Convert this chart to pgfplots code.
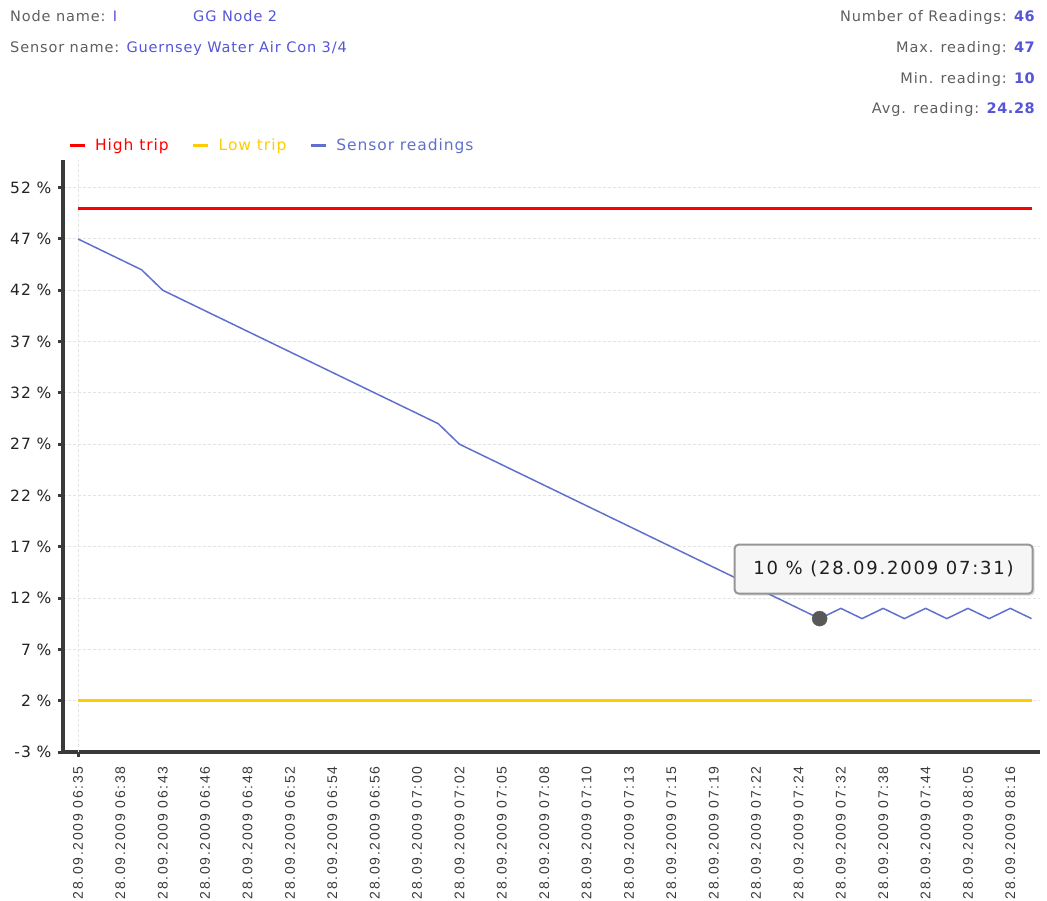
\documentclass[border=0pt]{standalone}
\usepackage{pgfplots}
\pgfplotsset{compat=1.18}
\usepackage{fontspec}
\usetikzlibrary{shadows}
\setmainfont{DejaVu Sans}
\newfontfamily\vfont{DejaVu Sans}[LetterSpace=6]
\newfontfamily\tfont{DejaVu Sans}[LetterSpace=10]
\newfontfamily\vfontb{DejaVu Sans Bold}[LetterSpace=4]
\newfontfamily\afont{Liberation Sans}[LetterSpace=12]
\definecolor{labgray}{RGB}{95,95,95}
\definecolor{valblue}{RGB}{85,85,215}
\definecolor{hightrip}{RGB}{255,0,0}
\definecolor{lowtrip}{RGB}{255,204,0}
\definecolor{sensor}{RGB}{96,112,204}
\definecolor{axisgray}{RGB}{58,58,58}
\definecolor{ticktext}{RGB}{35,35,35}
\definecolor{gridgray}{RGB}{228,228,228}
\definecolor{markgray}{RGB}{88,88,88}
\definecolor{tipborder}{RGB}{150,150,150}
\definecolor{tipfill}{RGB}{246,246,246}
\definecolor{tiptext}{RGB}{30,30,30}
\pgfplotstableread{
idx val
0 47
1 46
2 45
3 44
4 42
5 41
6 40
7 39
8 38
9 37
10 36
11 35
12 34
13 33
14 32
15 31
16 30
17 29
18 27
19 26
20 25
21 24
22 23
23 22
24 21
25 20
26 19
27 18
28 17
29 16
30 15
31 14
32 13
33 12
34 11
35 10
36 11
37 10
38 11
39 10
40 11
41 10
42 11
43 10
44 11
45 10
}\sensordata
\begin{document}
\begin{tikzpicture}[x=1pt,y=1pt]
\useasboundingbox (0,0) rectangle (1047,900);
% header
\newcommand{\hdr}{\vfont\fontsize{14.5}{16}\selectfont}
\newcommand{\hdrb}{\vfontb\fontsize{14.5}{16}\selectfont}
\node[anchor=base west, inner sep=0pt] at (10,878) {\hdr\color{labgray}Node name: \color{valblue}I};
\node[anchor=base west, inner sep=0pt] at (193,878) {\hdr\color{valblue}GG Node 2};
\node[anchor=base west, inner sep=0pt] at (10,847) {\hdr\color{labgray}Sensor name: \color{valblue}Guernsey Water Air Con 3/4};
\node[anchor=base east, inner sep=0pt] at (1035,878) {\hdr\color{labgray}Number of Readings: {\hdrb\color{valblue}46}};
\node[anchor=base east, inner sep=0pt] at (1035,847) {\hdr\color{labgray}Max. reading: {\hdrb\color{valblue}47}};
\node[anchor=base east, inner sep=0pt] at (1035,816) {\hdr\color{labgray}Min. reading: {\hdrb\color{valblue}10}};
\node[anchor=base east, inner sep=0pt] at (1035,786) {\hdr\color{labgray}Avg. reading: {\hdrb\color{valblue}24.28}};
\begin{axis}[
  at={(63pt,148pt)}, anchor=south west,
  scale only axis, width=977pt, height=592pt,
  xmin=-0.71, xmax=45.4, ymin=-3, ymax=54.7,
  axis x line*=bottom, axis y line*=left,
  axis line style={-, line width=3.5pt, color=axisgray},
  ytick={-3,2,7,12,17,22,27,32,37,42,47,52},
  yticklabels={-3 \%,2 \%,7 \%,12 \%,17 \%,22 \%,27 \%,32 \%,37 \%,42 \%,47 \%,52 \%},
  yticklabel style={font=\vfont\fontsize{15.5}{17}\selectfont, text=ticktext, xshift=-3pt},
  ytick style={draw=axisgray, line width=3pt},
  tick align=outside, major tick length=5pt,
  ymajorgrids, major grid style={gridgray, line width=1pt, dash pattern=on 3pt off 2pt},
  xtick={0,2,...,44},
  xticklabels={28.09.2009 06:35,28.09.2009 06:38,28.09.2009 06:43,28.09.2009 06:46,28.09.2009 06:48,28.09.2009 06:52,28.09.2009 06:54,28.09.2009 06:56,28.09.2009 07:00,28.09.2009 07:02,28.09.2009 07:05,28.09.2009 07:08,28.09.2009 07:10,28.09.2009 07:13,28.09.2009 07:15,28.09.2009 07:19,28.09.2009 07:22,28.09.2009 07:24,28.09.2009 07:32,28.09.2009 07:38,28.09.2009 07:44,28.09.2009 08:05,28.09.2009 08:16},
  xticklabel style={rotate=90, anchor=east, font=\afont\fontsize{14}{15}\selectfont, text=axisgray},
  xticklabel shift=6pt,
  xtick style={draw=none},
  extra x ticks={0}, extra x tick labels={},
  extra x tick style={grid=major, xtick style={draw=axisgray, line width=3pt}},
  legend columns=-1,
  legend style={at={(0.005,1.025)}, anchor=west, draw=none, fill=none, inner sep=0pt,
    nodes={inner xsep=0pt, inner ysep=2pt, font=\vfont\fontsize{15.5}{17}\selectfont},
    /tikz/every odd column/.append style={column sep=9pt},
    /tikz/every even column/.append style={column sep=23pt}},
  legend image code/.code={\draw[#1, line width=3pt] (0pt,0pt) -- (15pt,0pt);},
  clip=false,
]
\addplot[hightrip, line width=3pt] coordinates {(0,50) (45,50)};
\addlegendentry{\textcolor{hightrip}{High trip}}
\addplot[lowtrip, line width=3pt] coordinates {(0,2) (45,2)};
\addlegendentry{\textcolor{lowtrip}{Low trip}}
\addplot[sensor, line width=1.5pt] table[x=idx, y=val] {\sensordata};
\addlegendentry{\textcolor{sensor}{Sensor readings}}
\addplot[forget plot, only marks, mark=*, mark size=7.5pt, markgray, mark options={draw=markgray}] coordinates {(35,10)};
\node[draw=tipborder, line width=2pt, fill=tipfill, rounded corners=4pt,
  minimum width=298pt, minimum height=49pt, inner sep=0pt, drop shadow={opacity=0.25, shadow xshift=2pt, shadow yshift=-2pt},
  font=\tfont\fontsize{18}{20}\selectfont, text=tiptext]
  at ([shift={(64pt,49.5pt)}]axis cs:35,10) {10 \% (28.09.2009 07:31)};
\end{axis}
\end{tikzpicture}
\end{document}
